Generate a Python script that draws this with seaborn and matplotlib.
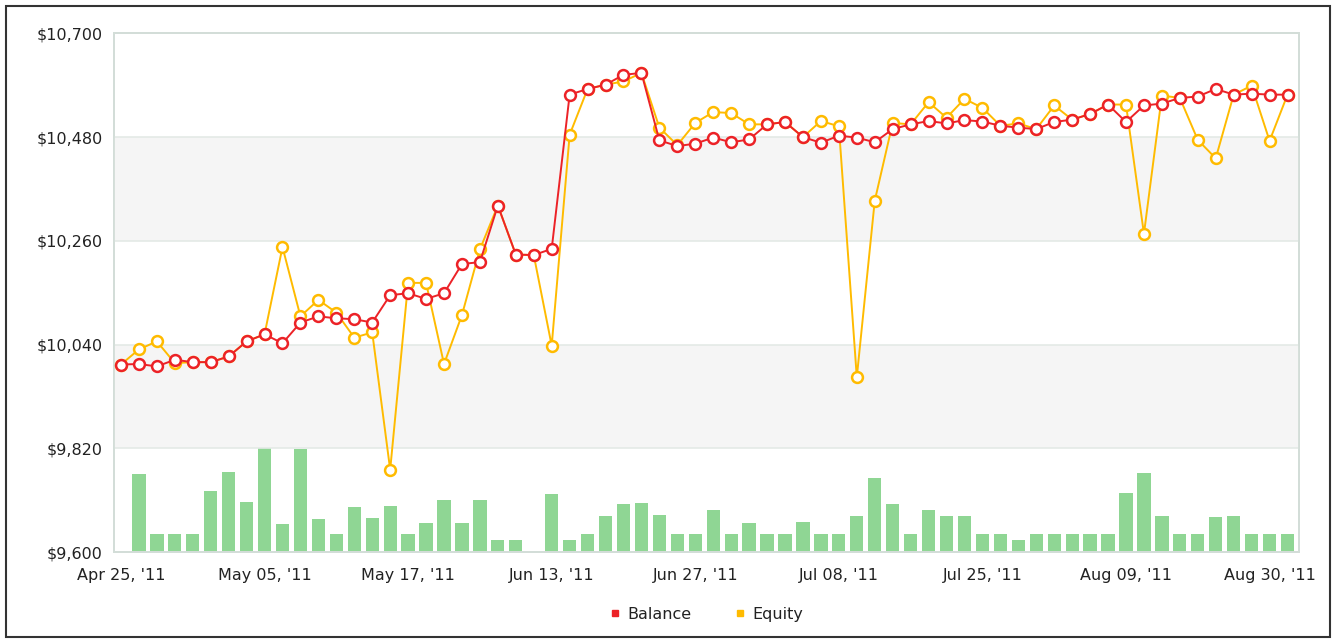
import numpy as np
import pandas as pd
import seaborn as sns
import matplotlib
matplotlib.use("Agg")
import matplotlib.pyplot as plt
from matplotlib.lines import Line2D
from matplotlib.patches import Rectangle

# Balance / equity per trading day
balance = [9998, 9999, 9994, 10008, 10003, 10003, 10015, 10047, 10062, 10043,
           10087, 10100, 10096, 10094, 10087, 10145, 10149, 10137, 10149, 10211,
           10215, 10335, 10231, 10230, 10243, 10570, 10582, 10591, 10612, 10616,
           10473, 10461, 10466, 10479, 10469, 10475, 10507, 10512, 10480, 10468,
           10483, 10479, 10469, 10497, 10507, 10514, 10509, 10516, 10513, 10504,
           10500, 10497, 10512, 10517, 10529, 10549, 10512, 10547, 10551, 10563,
           10566, 10582, 10570, 10572, 10570, 10570]
equity = [9998, 10030, 10047, 10001, 10003, 10003, 10015, 10047, 10062, 10247,
          10100, 10135, 10108, 10055, 10066, 9775, 10171, 10171, 9999, 10103,
          10242, 10335, 10231, 10230, 10038, 10485, 10582, 10591, 10598, 10616,
          10500, 10463, 10510, 10533, 10531, 10507, 10507, 10512, 10480, 10514,
          10503, 9971, 10345, 10510, 10507, 10554, 10521, 10561, 10542, 10504,
          10509, 10497, 10547, 10517, 10529, 10549, 10549, 10275, 10568, 10563,
          10474, 10435, 10570, 10589, 10472, 10570]
# volume bars (relative units)
volume = [0, 79, 18, 18, 18, 62, 81, 51, 105, 29,
          104, 34, 18, 46, 35, 47, 18, 30, 53, 30,
          53, 12, 12, 0, 59, 12, 18, 37, 49, 50,
          38, 18, 18, 43, 18, 30, 18, 18, 31, 18,
          18, 37, 75, 49, 18, 43, 37, 37, 18, 18,
          12, 18, 18, 18, 18, 18, 60, 80, 37, 18,
          18, 36, 37, 18, 18, 18]

tick_labels = ["Apr 25, '11", "May 05, '11", "May 17, '11", "Jun 13, '11",
               "Jun 27, '11", "Jul 08, '11", "Jul 25, '11", "Aug 09, '11",
               "Aug 30, '11"]
y_ticks = [9600, 9820, 10040, 10260, 10480, 10700]

RED = "#ec2227"
GOLD = "#ffbb00"
GREEN = "#8fd694"

df = pd.DataFrame({"day": np.arange(len(balance)), "balance": balance,
                   "equity": equity, "volume": volume})

sns.set_style("white")
plt.rcParams["font.family"] = ["DejaVu Sans"]

fig = plt.figure(figsize=(13.33, 6.39), dpi=100)
ax = fig.add_axes([0.0855, 0.1357, 0.889, 0.8122])
ax2 = ax.twinx()

# volume bars underneath
sns.barplot(data=df, x="day", y="volume", ax=ax2, native_scale=True,
            color=GREEN, saturation=1, width=0.74, linewidth=0)
ax2.set_ylim(0, max(volume) * 5)
ax2.set_yticks([])
ax2.set_ylabel("")

# alternate bands + grid
for lo, hi in [(y_ticks[1], y_ticks[2]), (y_ticks[3], y_ticks[4])]:
    ax.axhspan(lo, hi, color="#f5f5f5", zorder=0, lw=0)
for t in y_ticks[1:-1]:
    ax.axhline(t, color="#e4eae6", lw=1.2, zorder=0.5)

sns.lineplot(data=df, x="day", y="equity", ax=ax, color=GOLD, lw=1.4,
             marker="o", ms=7.8, mfc="white", mec=GOLD, mew=1.8, zorder=3)
sns.lineplot(data=df, x="day", y="balance", ax=ax, color=RED, lw=1.4,
             marker="o", ms=7.8, mfc="white", mec=RED, mew=1.8, zorder=4)

ax.set_zorder(ax2.get_zorder() + 1)
ax.patch.set_visible(False)

n = len(balance)
ax.set_xlim(-0.39, n - 1 + 0.64)
ax2.set_xlim(-0.39, n - 1 + 0.64)
ax.set_ylim(y_ticks[0], y_ticks[-1])
ax.set_yticks(y_ticks)
ax.set_yticklabels([f"${v:,}" for v in y_ticks])
ax.set_xticks(np.arange(0, n, 8))
ax.set_xticklabels(tick_labels)
ax.set_xlabel("")
ax.set_ylabel("")
ax.tick_params(axis="y", length=0, pad=8, labelsize=11.5, labelcolor="#222222")
ax.tick_params(axis="x", length=0, pad=11, labelsize=11.5, labelcolor="#222222")
ax2.tick_params(length=0)

for a in (ax, ax2):
    for s in a.spines.values():
        s.set_color("#d3ddd8")
        s.set_linewidth(1.3)

handles = [Line2D([], [], ls="", marker="s", ms=5, color=RED, label="Balance"),
           Line2D([], [], ls="", marker="s", ms=5, color=GOLD, label="Equity")]
fig.legend(handles=handles, loc="center", bbox_to_anchor=(0.529, 0.039),
           ncol=2, frameon=False, fontsize=11.5, handletextpad=0.3,
           columnspacing=2.5, handlelength=1.0, labelcolor="#222222")

fig.patches.append(Rectangle((0.0045, 0.003), 0.993, 0.987, transform=fig.transFigure,
                             fill=False, edgecolor="#333333", lw=1.5))

fig.savefig("out.png", dpi=100)
